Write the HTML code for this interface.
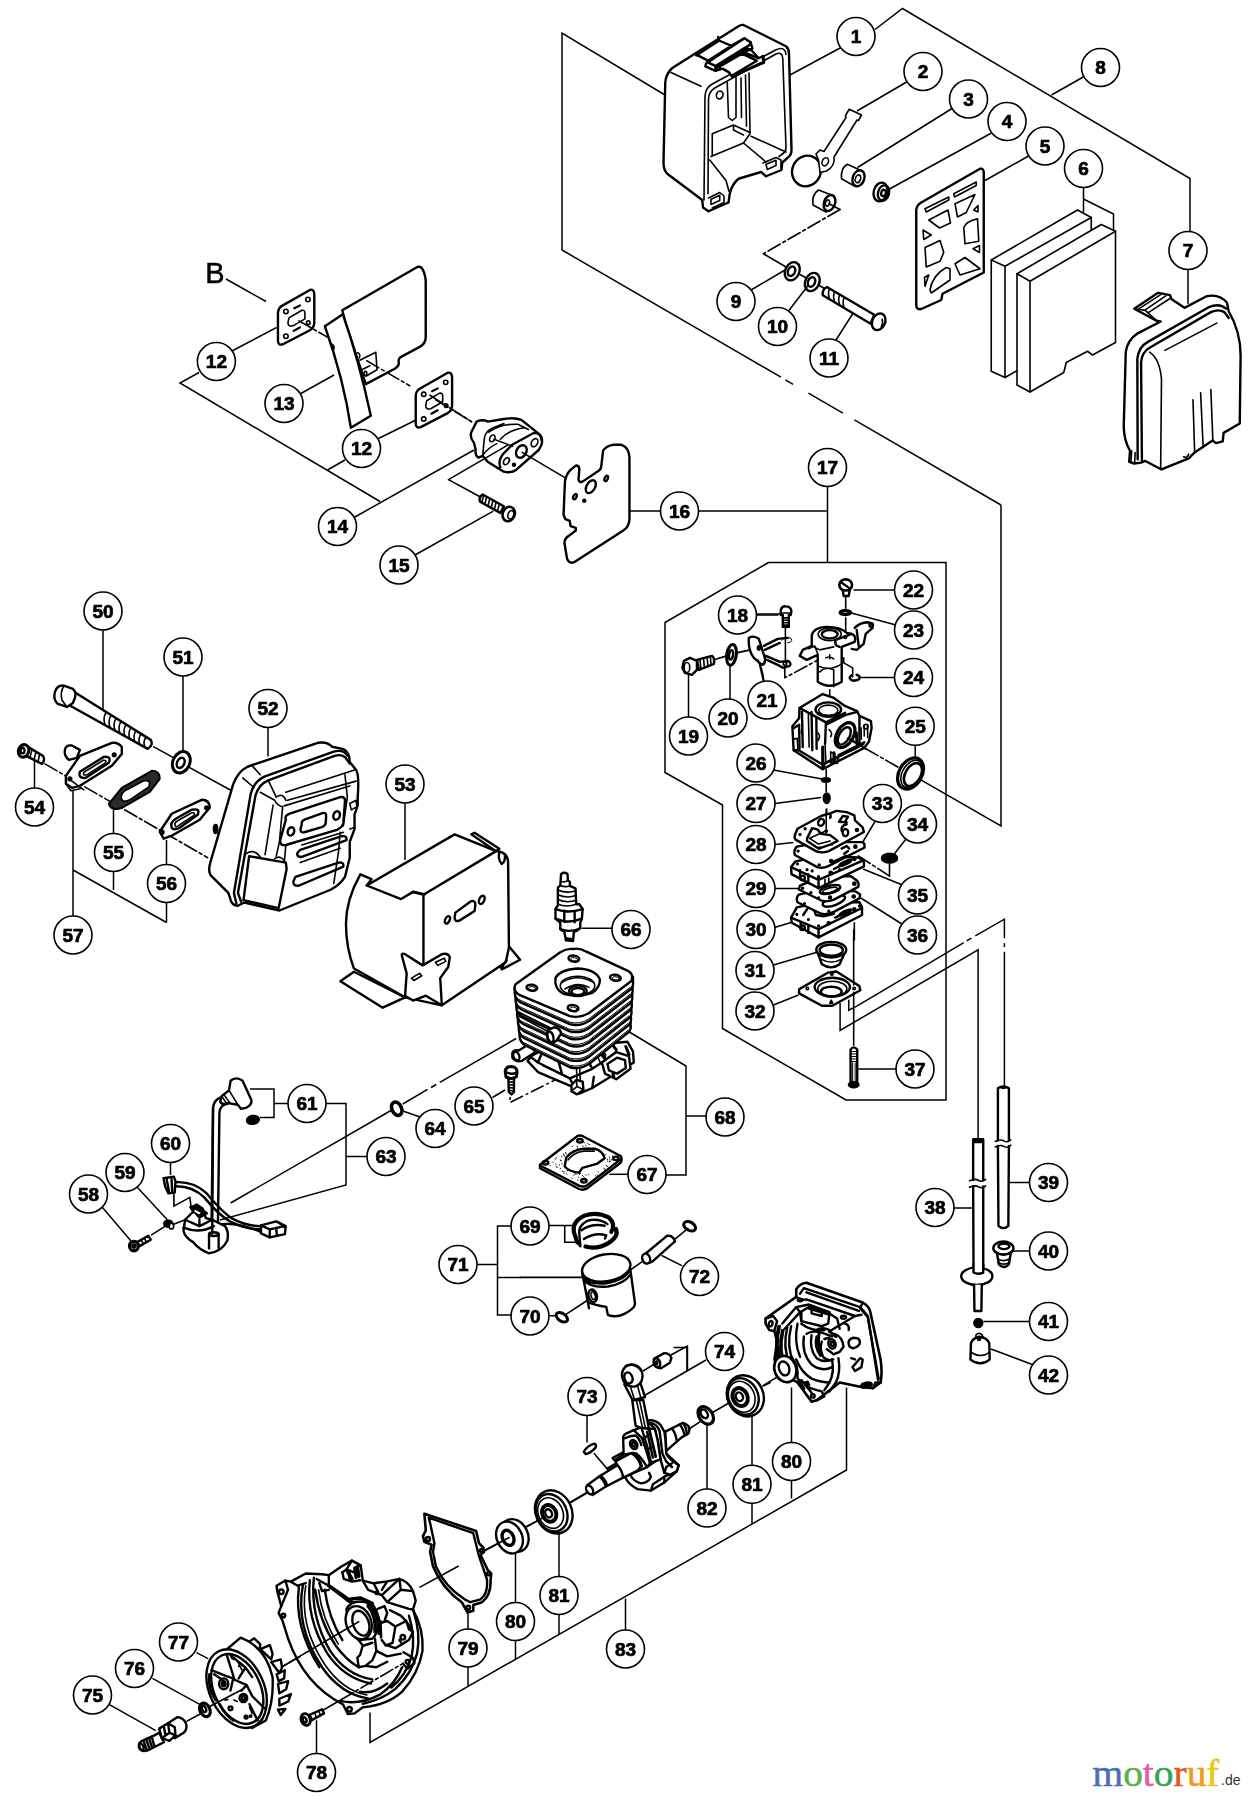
<!DOCTYPE html>
<html><head><meta charset="utf-8"><title>Parts diagram</title>
<style>
html,body{margin:0;padding:0;background:#fff}
svg{display:block}
.ln path,.ln line,.ln polyline{fill:none;stroke:#000;stroke-width:1.5}
.dd{stroke-dasharray:14 3 3 3}
.p *{fill:none;stroke:#000;stroke-width:1.6;vector-effect:non-scaling-stroke;stroke-linejoin:round;stroke-linecap:round}
.p .w{fill:#fff}
.p .k{fill:#000}
.p .t{stroke-width:2.4}
.p .h{stroke-width:1}
.p .d{stroke-dasharray:14 3 3 3;stroke-width:1.6}
.c circle{fill:#fff;stroke:#000;stroke-width:1.6}
.c text{font-family:"Liberation Sans",sans-serif;font-weight:bold;font-size:19px;text-anchor:middle;fill:#000;stroke:#000;stroke-width:.7px}
</style></head><body>
<svg width="1252" height="1800" viewBox="0 0 1252 1800">
<rect width="1252" height="1800" fill="#fff"/>

<g class="ln">
<path d="M875 29.5 L902.5 8.5 L1190 178.5 L1190 231"/>
<path d="M1188 269.5 L1188 304"/>
<path d="M841 47.5 L790 75"/>
<path d="M1085 76 L1051.5 95"/>
<path d="M907.5 81.5 L857 111"/>
<path d="M952 108.5 L857.5 167.5"/>
<path d="M991.5 133 L889.5 189"/>
<path d="M1028.5 156 L985 180.5"/>
<path d="M1083.5 187.5 L1083.5 212.5"/>
<path d="M1083.5 199 L1113.5 214 L1113.5 231"/>
<path d="M751 290 L785 270"/>
<path d="M788.5 311 L808.5 285"/>
<path d="M836 340 L853.5 312.5"/>
<path d="M665 95 L562 33 L562 250"/>
<path d="M562 250 L781 377.2"/>
<path d="M785.4 379.8 L793.1 384.3"/>
<path d="M808.4 393.2 L842.9 413.2"/>
<path d="M854.4 419.9 L1001 505"/>
<path d="M1001 505 L1001 826 L913 775.4"/>
<path d="M226 279 L266 301.5"/>
<path d="M231 351.5 L276.5 327.5"/>
<path d="M199 372.5 L180 383 L380 501.5"/>
<path d="M327.5 470 L345 460"/>
<path d="M377.5 439 L416 420"/>
<path d="M354 517.5 L474 450"/>
<path d="M300 394 L334 375"/>
<path d="M415 555 L493.3 511.2"/>
<path d="M626 511 L660.5 511"/>
<path d="M698.5 511 L827.5 511"/>
<path d="M827.5 486.5 L827.5 562.5"/>
<path d="M768.5 562.5 L946 562.5 L946 1100 L846 1100 L722.5 1028.5 L722.5 805 L665 772.5 L665 622.5 L768.5 562.5"/>
<path d="M756 615 L778.5 615"/>
<path d="M688.5 717.5 L688.5 675"/>
<path d="M730 699 L730 665"/>
<path d="M763.5 681.5 L758.5 660"/>
<path d="M895 590 L853.5 590"/>
<path d="M896 625 L849.5 612.5"/>
<path d="M895 677.5 L861 677.5"/>
<path d="M915.2 745 L915.2 760"/>
<path d="M773.5 770 L822 779"/>
<path d="M775 803.5 L821 797.5"/>
<path d="M775 844.5 L793.5 842.5"/>
<path d="M875 821.5 L861 845"/>
<path d="M906 839 L893.5 855"/>
<path d="M902.5 885 L863 869"/>
<path d="M903.5 925 L856 895"/>
<path d="M774.5 888.5 L798.5 888.5"/>
<path d="M774.5 927.5 L791 922.5"/>
<path d="M773.5 965 L816 952.5"/>
<path d="M773.5 1005 L798.5 995"/>
<path d="M896 1069 L857 1069"/>
<path d="M840.1 1003 L840.1 1030.4 L978.1 949.8 L978.1 1140"/>
<path d="M848.75 999.7 L848.75 1010.2 L856.4 1006.4 L963.8 942.6"/>
<path d="M966.6 940.9 L971.4 938.1"/>
<path d="M975.3 935.8 L1004.4 919.2 L1004.4 938.3"/>
<path d="M1004.4 943.1 L1004.4 947"/>
<path d="M1004.4 951.8 L1004.4 1086"/>
<path d="M1030 1182.5 L1008.5 1182.5"/>
<path d="M953.5 1208 L973.5 1208"/>
<path d="M1030 1251 L1013.5 1251"/>
<path d="M1030 1321.5 L983.5 1321.5"/>
<path d="M1033.5 1365 L991 1349"/>
<path d="M626 1030 L686 1066 L686 1175 L666 1175"/>
<path d="M686 1116 L706 1116"/>
<path d="M609.5 1174.3 L628 1174.3"/>
<path d="M103 630 L103 712.5"/>
<path d="M183 676 L183 752.5"/>
<path d="M268 727.5 L268 756.5"/>
<path d="M405 803 L405 860"/>
<path d="M34.5 788.5 L34.5 760"/>
<path d="M113.5 834 L113.5 810"/>
<path d="M113.5 871 L113.5 890"/>
<path d="M166.5 865 L166.5 840"/>
<path d="M166.5 902.5 L166.5 922.5"/>
<path d="M73 916 L73 790"/>
<path d="M73 870 L166.5 922.5"/>
<path d="M102.5 1207.5 L131 1241"/>
<path d="M137.5 1187.5 L167.5 1220"/>
<path d="M170.5 1162.5 L170.5 1175"/>
<path d="M250 1089 L274 1089 L274 1117.5 L260 1117.5"/>
<path d="M274 1103.5 L288.5 1103.5"/>
<path d="M326 1103.5 L346 1103.5 L346 1185 L220 1220"/>
<path d="M346 1156.5 L367.5 1156.5"/>
<path d="M516.2 1038.5 L439.8 1082.4"/>
<path d="M436.2 1084.5 L431 1087.5"/>
<path d="M427.5 1089.4 L402.8 1104"/>
<path d="M391 1110.5 L230.6 1203"/>
<path d="M421.5 1117.5 L400 1110"/>
<path d="M492.5 1097.5 L505 1090"/>
<path d="M510 1080 L510 1102.5 L570 1072.5" class="dd"/>
<path d="M476.5 1264.5 L497.5 1264.5"/>
<path d="M511.5 1226 L497.5 1226 L497.5 1315 L511.5 1315"/>
<path d="M497.5 1277.5 L521 1277.5"/>
<path d="M587 1415 L587 1442.5"/>
<path d="M706 1360 L641 1397.5"/>
<path d="M673.5 1347.5 L687 1347.5 L687 1371.5"/>
<path d="M370 1712.5 L370 1742.5 L846.5 1470 L846.5 1387.5"/>
<path d="M625.5 1598.5 L625.5 1630"/>
<path d="M468 1611.5 L468 1629"/>
<path d="M468 1667 L468 1686"/>
<path d="M515.5 1550 L515.5 1602.5"/>
<path d="M515.5 1640.5 L515.5 1659"/>
<path d="M559 1534 L559 1576.5"/>
<path d="M559 1614.5 L559 1634"/>
<path d="M707 1425 L707 1489"/>
<path d="M752 1414 L752 1465.5"/>
<path d="M752 1503.5 L752 1524"/>
<path d="M791.5 1387.5 L791.5 1442.5"/>
<path d="M791.5 1480.5 L791.5 1498.5"/>
<path d="M196.5 1652.6 L208.1 1658.7"/>
<path d="M152.4 1678.4 L200.6 1704.9"/>
<path d="M109 1704.3 L155.8 1730.7"/>
<path d="M316.5 1720.2 L316.5 1753.5"/>
</g>
<!-- t01_airbox.svg -->
<g class="p" transform="translate(626,0) scale(0.25)">
<!-- air cleaner box (1) -->
<path class="w t" d="M470 100 L640 185 Q652 195 652 215 L662 600 Q662 620 648 630 L625 650 L622 680 L560 705 L540 688 L450 715 Q425 735 415 775 L410 810 L330 845 L308 830 L305 800 L165 695 Q150 680 150 650 L157 330 Q160 295 185 272 L450 105 Q460 98 470 100 Z"/>
<path d="M312 800 L316 385 Q318 352 345 336 L598 200 Q636 182 640 218"/>
<path d="M328 775 L330 395 Q332 366 355 352 L600 216 Q624 206 627 232 L640 590 Q640 606 628 614 L612 626"/>
<path d="M180 290 L300 345"/>
<!-- interior -->
<ellipse cx="375" cy="380" rx="13" ry="16" transform="rotate(20 375 380)"/>
<path d="M405 330 L410 470 L425 482 L440 470 L440 300 M460 312 L462 470 M478 300 L482 505 M492 292 L496 530"/>
<path d="M345 535 L430 500 L496 530 M345 535 L345 620 M340 626 L470 572 L496 535 M470 572 L560 648 M430 500 L430 520 L470 540"/>
<path d="M335 640 L400 722 L412 765 M500 545 L640 608"/>
<!-- tabs -->
<path d="M330 792 L375 770 L392 784 L392 810 L345 832 M340 797 L375 781 L375 802 L340 818 Z"/>
<path d="M548 652 L600 630 L620 640 L620 675 M560 657 L600 641 L600 662 L565 678 Z"/>
</g>
<g class="p" transform="translate(690,15) scale(0.08786)">
<path class="w t" d="M70 460 L320 300 L330 290 L470 350 L620 265 L690 310 L710 380 L690 392 L780 490 L830 470 L840 540 L790 560 L480 700 L440 650 L370 610 L290 635 L175 585 L180 560 L205 520 L100 465 Z"/>
<path class="t" d="M205 520 L440 370 M200 540 L620 265 M200 540 L290 580 L680 340 M290 580 L290 635 M310 600 L660 385 M335 570 L340 605 M370 570 L590 440 L760 520 L480 690 M600 420 L780 490 M330 290 L320 250 M690 310 L680 340"/>
<path style="stroke-width:3" d="M600 420 L690 392 M790 560 L840 540 L830 470 M480 700 L790 560"/>
</g>

<!-- t02_choke.svg -->
<g class="p" transform="translate(626,0) scale(0.25)">
<!-- choke disc + lever (2) -->
<ellipse class="t" cx="722" cy="684" rx="57" ry="62" transform="rotate(25 722 684)"/>
<path class="w" d="M893 437 L942 460 L930 482 L924 480 L832 628 Q838 664 802 684 L776 690 L770 640 L760 616 L776 600 L792 606 L880 470 L878 462 Z"/>
<ellipse cx="797" cy="647" rx="12" ry="17" transform="rotate(25 797 647)"/>
<!-- bushing 3 -->
<path class="w" d="M885 657 L940 682 L915 745 L862 715 Q858 672 885 657 Z"/>
<ellipse class="w t" cx="930" cy="713" rx="23" ry="33" transform="rotate(20 930 713)"/>
<ellipse cx="928" cy="715" rx="10" ry="16" transform="rotate(20 928 715)"/>
<!-- lower bushing -->
<path class="w" d="M770 760 L822 780 L800 848 L748 820 Q742 778 770 760 Z"/>
<ellipse class="w t" cx="814" cy="812" rx="22" ry="33" transform="rotate(20 814 812)"/>
<ellipse cx="806" cy="812" rx="8" ry="13" transform="rotate(20 806 812)"/>
<path d="M812 815 L856 838"/>
<!-- bearing 4 -->
<ellipse class="w t" cx="1018" cy="768" rx="27" ry="38" transform="rotate(15 1018 768)"/>
<ellipse class="t" cx="1030" cy="772" rx="22" ry="31" transform="rotate(15 1030 772)"/>
<ellipse class="t" cx="1030" cy="772" rx="9" ry="13" transform="rotate(15 1030 772)"/>
<!-- dash-dot to washers -->
<path class="d" d="M856 838 L550 1015"/>
<path d="M550 1015 L640 1068 M690 1095 L722 1112 M770 1140 L795 1155"/>
<!-- washers 9,10 -->
<ellipse class="t" cx="665" cy="1085" rx="28" ry="38" transform="rotate(25 665 1085)"/>
<ellipse class="t" cx="662" cy="1085" rx="14" ry="20" transform="rotate(25 662 1085)"/>
<ellipse class="t" cx="745" cy="1128" rx="28" ry="38" transform="rotate(25 745 1128)"/>
<ellipse class="t" cx="742" cy="1128" rx="14" ry="20" transform="rotate(25 742 1128)"/>
</g>

<!-- t03_filter.svg -->
<g class="p" transform="translate(880,150) scale(0.25)">
<!-- filter plate 5 -->
<path class="w t" d="M400 75 Q415 72 415 90 L415 490 L250 575 L245 600 L165 636 Q145 640 145 620 L145 240 Q147 220 165 210 Z"/>
<path d="M180 235 L275 188 L275 200 L185 248 Z M295 175 L385 128 L385 142 L298 188 Z"/>
<path d="M195 280 L272 240 L282 292 L238 312 Z M300 215 L380 178 L345 250 L310 268 Z M375 240 L392 222 L392 248 Z M172 320 L205 340 L175 358 Z"/>
<path d="M180 390 L240 362 L255 410 L240 445 L185 468 Z M335 310 Q345 285 390 275 L395 365 L340 375 Z M372 395 L398 382 L398 410 Z"/>
<path d="M200 560 Q210 500 265 470 L280 475 L280 520 L205 572 Z M178 510 L195 500 L180 545 Z M300 455 L340 430 L400 475 L320 500 Z"/>
<!-- foams 6 -->
<path class="w" d="M445 440 L790 240 L845 270 L845 715 L500 910 L445 885 Z"/>
<path d="M445 440 L500 465 L500 910 M500 465 L845 270"/>
<path class="w" d="M548 495 L885 298 L942 325 L942 770 L850 820 L830 805 L745 850 L735 890 L600 968 L548 940 Z"/>
<path d="M548 495 L600 525 L600 968 M600 525 L942 325"/>
</g>

<!-- t04_cover.svg -->
<g class="p" transform="translate(1039,250) scale(0.17013)">
<path class="w t" d="M700 252 L770 265 L780 290 L855 340 L985 272 Q1060 255 1105 310 L1115 360 Q1185 480 1185 620 L1180 1020 L1085 1075 L1080 1125 L1040 1135 L1020 1120 L915 1190 L880 1225 L720 1290 L625 1240 L600 1250 L560 1255 L530 1245 L535 1180 Q500 1120 498 1040 L510 600 Q520 530 580 490 L715 420 L690 415 L560 345 Z"/>
<path class="t" d="M580 1230 L578 640 Q585 570 640 540 L1000 335 Q1060 310 1100 345"/>
<path class="t" d="M605 1240 L600 660 Q605 600 650 575 L1010 365 Q1055 345 1090 365 L1115 400"/>
<path d="M650 600 Q710 640 720 760 L715 1285 M740 590 L1045 430 M905 880 L915 1190 M950 840 L965 1160 M1010 820 L1022 1120"/>
<path d="M580 350 L715 262 M620 355 L745 270 M640 370 L770 285 M560 345 L625 355 L690 415 M545 1180 L540 1250 M565 1190 L562 1255 M850 1215 Q870 1225 880 1200"/>
</g>

<!-- t05_bolt11.svg -->
<g class="p" transform="translate(740,240) scale(0.1278)">
<path class="w t" d="M680 368 L1050 585 L1022 655 L648 432 Q640 390 680 368 Z"/>
<path d="M700 380 Q685 420 700 455 M740 405 Q725 445 740 480 M780 425 Q765 470 780 505 M815 450 Q800 490 812 520"/>
<ellipse class="w t" cx="1085" cy="640" rx="50" ry="68" transform="rotate(25 1085 640)"/>
<path d="M1112 620 Q1122 650 1105 682"/>
</g>

<!-- t06_gaskets.svg -->
<g class="p" transform="translate(250,240) scale(0.19968)">
<!-- plate 13 back sheet -->
<path class="w t" d="M462 352 L838 135 Q862 128 872 165 Q882 190 880 230 L880 490 Q878 520 850 535 L752 588 Q742 595 745 620 Q745 632 725 645 L580 722 L480 420 Z"/>
<path d="M550 602 L630 562 L636 650 L580 682 M560 650 L600 630"/>
<ellipse cx="578" cy="668" rx="7" ry="10"/>
<!-- front strip -->
<path class="w t" d="M375 432 L465 372 Q545 600 605 880 L505 940 Q470 700 375 432 Z"/>
<path d="M404 520 Q425 525 420 548 M538 565 Q555 570 548 590"/>
<!-- gasket 12a -->
<g>
<path class="w t" d="M160 330 L300 250 Q320 245 322 270 L322 415 Q320 440 300 452 L165 522 Q140 530 140 505 L140 365 Q142 340 160 330 Z"/>
<path d="M195 390 L260 352 Q275 350 275 365 L275 395 L215 430 Q190 435 190 415 Z"/>
<circle cx="180" cy="358" r="11"/><circle cx="290" cy="298" r="11"/><circle cx="180" cy="482" r="11"/><circle cx="292" cy="414" r="9"/>
<path style="stroke-width:2.2" d="M222 342 L250 328 M218 455 L250 438"/>
</g>
<g transform="translate(690,415)">
<path class="w t" d="M160 330 L300 250 Q320 245 322 270 L322 415 Q320 440 300 452 L165 522 Q140 530 140 505 L140 365 Q142 340 160 330 Z"/>
<path d="M195 390 L260 352 Q275 350 275 365 L275 395 L215 430 Q190 435 190 415 Z"/>
<circle cx="180" cy="358" r="11"/><circle cx="290" cy="298" r="11"/><circle cx="180" cy="482" r="11"/><circle cx="292" cy="414" r="9"/>
<path style="stroke-width:2.2" d="M222 342 L250 328 M218 455 L250 438"/>
</g>
<path class="d" d="M245 405 L385 485 M585 605 L800 730 M930 800 L1110 910"/>
</g>

<!-- t07_insul.svg -->
<g class="p" transform="translate(430,390) scale(0.17572)">
<path class="d" d="M0 30 L235 180"/>
<path class="w t" d="M265 180 Q300 165 330 180 L420 165 Q480 155 520 170 L620 250 Q645 270 635 310 L620 340 L490 455 Q460 475 420 465 L330 410 L300 375 L275 385 Q255 370 260 340 L250 300 Q225 270 235 240 Z"/>
<path class="t" d="M470 310 L590 245 Q630 240 635 285 M400 440 Q385 400 420 360 L470 310"/>
<ellipse class="t" cx="520" cy="350" rx="28" ry="38" transform="rotate(30 520 350)"/>
<ellipse cx="595" cy="300" rx="17" ry="25" transform="rotate(30 595 300)"/>
<ellipse cx="435" cy="405" rx="14" ry="22" transform="rotate(30 435 405)"/>
<circle class="k" cx="478" cy="425" r="8"/>
<path d="M300 370 L310 270 Q320 230 360 215 L420 190 M335 240 Q400 190 500 195 L560 225 M400 280 Q450 225 540 215 M300 370 Q330 330 380 305"/>
<ellipse cx="355" cy="275" rx="14" ry="20" transform="rotate(25 355 275)"/>
<path d="M365 280 L470 320 M525 355 L765 497 M440 315 L105 510 L290 610"/>
<!-- screw 15 -->
<path class="w t" d="M300 595 L420 662 L400 700 L285 635 Q275 610 300 595 Z"/>
<path d="M305 600 L295 640 M322 610 L312 650 M340 620 L330 660 M358 630 L348 670 M376 640 L366 680 M394 650 L384 690"/>
<ellipse class="w" style="stroke-width:2.6" cx="448" cy="706" rx="34" ry="42" transform="rotate(20 448 706)"/>
<ellipse cx="460" cy="710" rx="16" ry="25" transform="rotate(20 460 710)"/>
<!-- gasket 16 -->
<path class="w t" d="M985 345 Q1000 320 1040 312 L1090 312 Q1130 325 1135 380 L1135 740 Q1130 780 1100 800 L820 980 Q790 990 780 960 L765 870 Q765 845 790 830 L830 800 L830 785 L800 775 L795 745 L770 735 L760 710 L768 520 Q775 480 800 455 L830 430 Q850 430 850 450 L845 510 Q850 530 870 520 L960 460 Q975 450 975 430 Z"/>
<ellipse class="t" cx="915" cy="550" rx="24" ry="40" transform="rotate(30 915 550)"/>
<ellipse class="t" cx="1003" cy="503" rx="9" ry="16" transform="rotate(25 1003 503)"/>
<ellipse class="t" cx="825" cy="607" rx="9" ry="16" transform="rotate(25 825 607)"/>
<circle class="k" cx="878" cy="630" r="8"/>
</g>

<!-- t08_carbtop.svg -->
<g class="p" transform="translate(660,570) scale(0.19968)">
<!-- bolt 19 -->
<path class="w t" d="M185 450 L260 430 Q275 440 270 470 L195 500 Z"/>
<path d="M200 445 L205 495 M218 440 L222 490 M236 436 L240 485 M252 432 L256 478"/>
<path class="w" style="stroke-width:2.4" d="M120 455 L150 440 L185 455 L185 500 L160 525 L125 515 L112 490 Z"/>
<ellipse cx="135" cy="488" rx="14" ry="25"/>
<path d="M270 450 L335 430 M385 415 L495 390"/>
<!-- washer 20 -->
<ellipse class="w" style="stroke-width:3" cx="358" cy="425" rx="24" ry="52" transform="rotate(8 358 425)"/>
<ellipse class="t" cx="356" cy="425" rx="10" ry="24" transform="rotate(8 356 425)"/>
<!-- bracket 21 -->
<path class="w t" d="M445 340 Q470 325 495 345 L525 440 Q530 470 510 475 L470 440 Q440 400 445 340 Z"/>
<ellipse class="t" cx="495" cy="390" rx="5" ry="9"/>
<path class="t" d="M520 380 L590 345 L640 340 M525 400 L600 365 M530 430 L600 460 L640 455 Q660 465 650 480 L615 490 L590 475 L535 450"/>
<circle cx="626" cy="468" r="9"/>
<path class="h" d="M610 352 Q615 338 640 338 Q662 340 660 352 Q655 365 640 365"/>
<path d="M520 555 Q515 500 490 450"/>
<!-- screw 18 -->
<path class="w t" d="M605 200 Q610 180 630 182 Q655 182 658 205 L655 225 L645 225 L645 285 L615 285 L615 225 L605 225 Z"/>
<path d="M615 240 L645 240 M615 252 L645 252 M615 264 L645 264 M615 276 L645 276 M605 215 L658 215"/>
<path d="M628 290 L628 465 M480 220 L605 220"/>
<path class="d" d="M625 480 L625 540 L830 430"/>
<!-- screw 22, washer 23 -->
<ellipse class="w" style="stroke-width:2.6" cx="930" cy="75" rx="32" ry="28"/>
<path class="t" d="M905 60 L950 92 M915 100 L920 130 L945 130 L950 100"/>
<path d="M930 130 L930 200 M930 240 L930 335"/>
<ellipse style="stroke-width:3.2" cx="928" cy="213" rx="26" ry="10"/>
<!-- clip 24 -->
<path d="M920 440 L920 465 L965 490 L965 535"/>
<path style="stroke-width:2.6" d="M960 528 Q940 540 960 552 Q985 558 998 545 Q1005 532 985 525"/>
<!-- throttle assy -->
<path class="w t" d="M760 330 Q765 290 830 285 Q900 283 935 315 L960 320 Q985 330 975 360 L910 385 L910 560 Q850 600 790 560 L790 425 L735 450 L700 430 L715 400 L760 380 Z"/>
<ellipse class="t" cx="850" cy="322" rx="40" ry="21"/>
<ellipse cx="850" cy="322" rx="58" ry="32"/>
<path class="t" d="M880 350 L960 320 M900 385 Q870 380 880 350"/>
<circle cx="928" cy="336" r="7"/>
<path class="t" d="M975 290 Q1000 265 1040 262 Q1070 265 1065 290 L1030 320 L1020 370 L985 400 L960 395 M985 300 L995 380"/>
<circle class="t" cx="1058" cy="276" r="9"/>
<path d="M745 395 L775 380 L790 420 M760 380 L800 400 L870 385 M790 480 Q850 510 910 470 M800 510 Q830 480 870 500 L870 585 M830 440 Q850 430 870 445 M850 425 L850 445"/>
<path d="M850 600 L850 710"/>
</g>

<!-- t09_carbbody.svg -->
<g class="p" transform="translate(770,680) scale(0.15974)">
<path class="w t" d="M185 175 L330 88 L395 110 L465 160 L545 195 L560 225 L632 258 L636 300 L620 385 L590 425 L330 558 L148 440 L140 290 L182 240 Z"/>
<ellipse class="t" cx="365" cy="185" rx="80" ry="45"/>
<ellipse cx="365" cy="190" rx="60" ry="33"/>
<path d="M300 205 Q365 240 430 205"/>
<ellipse class="w" style="stroke-width:3.2" cx="470" cy="345" rx="52" ry="85" transform="rotate(30 470 345)"/>
<ellipse class="t" cx="465" cy="350" rx="32" ry="60" transform="rotate(30 465 350)"/>
<path class="t" d="M260 200 L265 440 M185 175 L260 215 L350 265 L470 205 M350 265 L345 400 M180 440 L330 530 L560 415 M330 430 L330 555"/>
<path d="M240 210 L245 420 M150 370 L170 365 L175 440 M345 410 L350 520 M380 450 L405 460 L405 510 L380 520 Z M590 290 L590 350 M610 280 L612 360 M570 300 L572 370 M200 310 Q190 330 205 340 M370 310 Q395 330 380 355 M300 330 Q320 350 300 380"/>
<circle cx="600" cy="292" r="14"/>
<path class="t" d="M150 300 L182 280 L185 430 M200 200 L205 420 M290 240 L292 430 M360 275 L470 220 L545 200 M560 230 L560 400 M420 520 L430 470 L590 390 M148 440 L180 440 M330 558 L345 520 L585 400"/>
<path style="stroke-width:3" d="M330 420 L332 550 M400 455 L402 515 M540 330 L545 400 M500 440 Q540 430 560 400"/>
<path class="t" d="M490 365 L600 430"/>
<path class="d" d="M600 430 L800 545"/>
<!-- seal 25 -->
<ellipse class="w" style="stroke-width:3.2" cx="880" cy="585" rx="72" ry="105" transform="rotate(30 880 585)"/>
<ellipse style="stroke-width:2.6" cx="895" cy="592" rx="48" ry="78" transform="rotate(30 895 592)"/>
<ellipse cx="888" cy="588" rx="60" ry="92" transform="rotate(30 888 588)"/>

<!-- 26, 27 -->
<path d="M352 560 L352 615 M352 640 L352 700 M355 810 L355 960"/>
<ellipse class="k" cx="350" cy="626" rx="27" ry="13"/>
<ellipse class="k" cx="355" cy="740" rx="21" ry="33"/>
</g>

<!-- t10_stack.svg -->
<g class="p" transform="translate(770,800) scale(0.1278)">
<!-- layer F body 30 -->
<path class="w t" d="M210 840 L165 920 L170 960 L380 1075 L720 900 L720 840 L700 800 L400 800 Z"/>
<path class="t" d="M165 920 L380 1010 L720 845 M240 955 L240 1010 M300 985 L300 1040 M380 1010 L380 1075"/>
<path class="t" d="M260 900 L300 840 L340 850 L360 900 L420 910 L500 890"/>
<ellipse class="t" cx="590" cy="880" rx="50" ry="11" transform="rotate(-25 590 880)"/>
<path style="stroke-width:2.4" d="M510 920 L600 878"/>
<circle class="t" cx="255" cy="1000" r="18"/>
<circle class="t" cx="660" cy="855" r="9"/><circle class="t" cx="460" cy="965" r="9"/><circle class="t" cx="460" cy="880" r="9"/>
<circle class="k" cx="210" cy="895" r="6"/><circle class="k" cx="300" cy="935" r="6"/><circle class="k" cx="380" cy="985" r="6"/><circle class="k" cx="700" cy="830" r="6"/>
<!-- layer E diaphragm 36 -->
<path class="w t" d="M225 740 Q200 770 215 800 L400 890 Q450 900 500 875 L700 770 L705 740 L670 715 L400 700 Z"/>
<ellipse class="t" cx="500" cy="790" rx="92" ry="34" transform="rotate(-20 500 790)"/>
<circle class="t" cx="655" cy="755" r="9"/><circle class="k" cx="460" cy="870" r="7"/><circle class="k" cx="270" cy="810" r="6"/>
<!-- layer D gasket 29 -->
<path class="w t" d="M235 670 L225 700 L410 790 Q450 800 500 780 L690 680 Q700 650 680 630 L630 595 L400 600 Z"/>
<ellipse class="t" cx="470" cy="700" rx="82" ry="30" transform="rotate(-15 470 700)"/>
<ellipse cx="470" cy="705" rx="60" ry="18" transform="rotate(-15 470 705)"/>
<circle class="k" cx="255" cy="690" r="7"/><circle class="k" cx="320" cy="725" r="7"/><circle class="t" cx="470" cy="762" r="8"/><circle class="t" cx="660" cy="655" r="9"/><circle class="k" cx="380" cy="765" r="6"/>
<!-- layer C body 35 -->
<path class="w t" d="M200 480 L165 525 L168 580 L380 690 L735 520 L735 475 L690 450 L400 440 Z"/>
<path class="t" d="M165 525 L380 625 L735 470 M235 550 L235 610 M300 580 L300 640 M380 620 L380 690"/>
<ellipse class="t" cx="590" cy="492" rx="52" ry="12" transform="rotate(-25 590 492)"/>
<path style="stroke-width:2.4" d="M500 540 L610 485"/>
<circle class="t" cx="660" cy="460" r="9"/><circle class="t" cx="475" cy="570" r="9"/><circle class="k" cx="380" cy="600" r="7"/>
<circle class="t" cx="255" cy="610" r="18"/>
<circle class="k" cx="215" cy="500" r="6"/><circle class="k" cx="290" cy="545" r="6"/><circle class="k" cx="330" cy="555" r="6"/><circle class="k" cx="545" cy="545" r="6"/>
<path d="M430 620 L430 660 M460 610 L460 650"/>
<!-- layer B gasket 33 -->
<path class="w t" d="M210 365 Q180 395 195 430 L370 525 Q410 540 460 515 L740 372 L738 340 L720 330 L400 330 Z"/>
<circle class="k" cx="220" cy="400" r="7"/><circle class="k" cx="385" cy="508" r="7"/><circle class="t" cx="478" cy="478" r="8"/><circle class="t" cx="668" cy="365" r="9"/>
<path class="t" d="M560 380 L600 360 L620 380 M580 420 L610 400"/>
<path style="stroke-width:2.2" d="M480 490 L600 435"/>
<!-- layer A gasket 28 -->
<path class="w t" d="M215 225 L400 125 L470 105 L520 85 L600 95 L660 120 L665 160 L725 215 L735 250 L460 400 Q400 420 360 400 L200 310 Q185 290 200 260 Z"/>
<path class="t" d="M290 300 L330 220 L370 230 L400 265 L470 275 L530 320 L470 350 L380 380 L290 320 Z"/>
<path d="M310 300 L440 240 M310 300 L380 345 L470 320"/>
<ellipse class="t" cx="400" cy="175" rx="22" ry="28" transform="rotate(30 400 175)"/>
<circle class="k" cx="275" cy="225" r="7"/><circle class="k" cx="235" cy="270" r="7"/><circle class="t" cx="680" cy="235" r="8"/><circle class="k" cx="390" cy="375" r="7"/><circle class="k" cx="485" cy="345" r="7"/>
<ellipse class="t" cx="590" cy="255" rx="22" ry="28"/>
<path class="t" d="M560 240 Q555 200 600 190 M540 170 L570 125 L610 130 L590 165 M540 170 L600 175 M470 110 Q480 130 470 140"/>
<path d="M440 70 L440 255 M430 240 L440 258 L450 240"/>
<!-- 34 and lines -->
<ellipse class="k" cx="935" cy="455" rx="62" ry="38"/>
<path d="M935 500 L935 595 M660 960 L660 1096"/>
<path class="d" d="M935 595 L680 430"/>
</g>

<!-- t11_cup.svg -->
<g class="p" transform="translate(770,930) scale(0.20767)">
<!-- 31 cup -->
<path class="w t" d="M228 105 L250 165 Q295 195 335 165 L362 105"/>
<ellipse class="w" style="stroke-width:2.4" cx="295" cy="95" rx="72" ry="38"/>
<ellipse class="t" cx="295" cy="97" rx="56" ry="27"/>
<path d="M245 140 Q295 168 345 140"/>
<!-- 32 plate -->
<path class="w t" d="M140 285 L280 205 L320 200 L430 270 L435 290 L300 365 L250 365 L140 305 Z"/>
<ellipse class="t" cx="300" cy="275" rx="85" ry="45"/>
<ellipse cx="300" cy="283" rx="70" ry="36"/>
<ellipse class="t" cx="295" cy="297" rx="50" ry="24"/>
<circle class="k" cx="298" cy="212" r="6"/><circle cx="180" cy="282" r="6"/><circle cx="405" cy="282" r="6"/>
<path class="k" d="M288 352 L295 338 L302 352 Z"/>
<!-- 37 screw -->
<path d="M403 0 L403 265 M403 300 L403 555"/>
<path class="w t" d="M388 575 Q403 555 420 575 L420 735 L388 735 Z"/>
<path class="h" d="M390 585 L418 585 M390 597 L418 597 M390 609 L418 609 M390 621 L418 621 M390 633 L418 633 M398 640 L398 730 M410 640 L410 730"/>
<ellipse class="k" cx="403" cy="745" rx="25" ry="14"/>
</g>

<!-- t12_tubes.svg -->
<g class="p" transform="translate(920,1070) scale(0.1833)">
<!-- tube 39 -->
<path class="w t" d="M425 385 L425 100 Q455 80 485 100 L485 385 M425 415 L428 850 Q455 875 482 850 L485 415"/>
<path d="M410 390 Q440 375 460 388 Q480 398 495 380 M410 420 Q440 405 460 418 Q480 428 495 410 M440 95 Q455 105 470 95"/>
<!-- tube 38 -->
<path class="w t" d="M290 600 L290 380 L345 380 L345 600 M290 635 L292 1090 L345 1090 L345 635"/>
<path class="k" d="M290 375 L345 375 L345 395 L290 395 Z"/>
<path d="M270 605 Q300 590 320 603 Q340 613 358 597 M270 640 Q300 625 320 638 Q340 648 358 632"/>
<ellipse class="w t" cx="310" cy="1125" rx="85" ry="48"/>
<path class="w t" d="M292 1060 L292 1105 Q318 1118 345 1105 L345 1060"/>
<path d="M235 1150 Q310 1195 385 1150"/>
<path class="w t" d="M295 1172 L297 1315 L335 1315 L337 1172"/>
<!-- grommet 40 -->
<path class="w t" d="M420 1000 L430 1060 Q455 1090 485 1060 L495 1000"/>
<path d="M425 1030 Q455 1050 490 1030 M428 1050 Q455 1068 488 1050"/>
<ellipse class="w" style="stroke-width:2.4" cx="455" cy="972" rx="55" ry="36"/>
<ellipse class="t" cx="458" cy="962" rx="30" ry="15"/>
<path d="M405 985 Q455 1025 505 985"/>
<!-- spring 41 -->
<circle class="k" cx="318" cy="1380" r="24"/>
<!-- filter 42 -->
<path class="w t" d="M275 1580 L278 1490 Q290 1460 325 1455 Q365 1460 378 1490 L380 1580 Q330 1620 275 1580 Z"/>
<path d="M278 1540 Q330 1575 380 1540 M305 1462 Q300 1440 322 1436 Q345 1440 342 1462"/>
<circle class="k" cx="322" cy="1468" r="8"/>
</g>

<!-- t13_mufbolts.svg -->
<g class="p" transform="translate(0,670) scale(0.19968)">
<path class="d" d="M225 470 L1040 940"/>
<!-- bolt 50 -->
<path class="w t" d="M372 110 L755 350 Q770 375 740 395 L345 175 Z"/>
<path d="M530 215 Q515 240 525 268 M555 230 Q540 255 550 283 M580 245 Q565 270 575 298 M605 260 Q590 285 600 313 M630 275 Q615 300 625 328 M655 290 Q640 315 650 343 M680 306 Q665 330 675 358 M705 322 Q690 345 700 372 M730 338 Q715 360 725 385"/>
<path class="w t" d="M275 110 Q285 75 320 78 L365 95 Q385 110 375 140 L365 165 L335 185 L290 170 Q265 150 275 110 Z"/>
<path d="M320 80 Q300 110 310 150 L335 185"/>
<path d="M770 385 L880 445 M925 475 L1160 605"/>
<!-- washer 51 -->
<ellipse class="w" style="stroke-width:3" cx="908" cy="462" rx="42" ry="56" transform="rotate(25 908 462)"/>
<ellipse class="w t" cx="905" cy="465" rx="18" ry="27" transform="rotate(25 905 465)"/>
<!-- bolt 54 -->
<path class="w t" d="M140 385 L215 430 Q228 450 210 470 L130 430 Z"/>
<path d="M160 398 L150 440 M180 410 L170 452 M198 422 L190 462"/>
<ellipse class="w" style="stroke-width:3" cx="118" cy="405" rx="26" ry="32" transform="rotate(20 118 405)"/>
<ellipse class="t" cx="113" cy="403" rx="10" ry="14"/>
<!-- 57 flange pipe -->
<path class="w t" d="M325 400 Q330 375 360 378 L400 400 L385 440 L345 450 Q320 430 325 400 Z"/>
<path class="w t" d="M330 530 L400 430 L560 365 Q590 360 610 385 L610 420 L560 480 L400 580 L360 590 L330 570 Z"/>
<path class="t" d="M400 510 L520 435 Q560 430 545 465 L430 540 Q390 545 400 510 Z"/>
<path d="M420 512 L518 452 Q535 450 528 465 L435 525 Q412 530 420 512 Z M330 570 L355 605 L400 595 M345 545 L420 600"/>
<circle class="k" cx="572" cy="425" r="9"/><circle class="k" cx="350" cy="545" r="9"/>
<!-- gasket 55 -->
<path style="fill:#2a2a2a;stroke-width:2" d="M545 670 L610 590 L760 505 Q800 505 800 545 L750 610 L610 690 Q560 710 545 670 Z"/>
<path class="w" d="M610 650 Q600 625 625 605 L720 555 Q760 550 745 585 L650 650 Q620 665 610 650 Z"/>
<!-- gasket 56 -->
<path class="w t" d="M800 810 L860 720 L1010 650 Q1050 650 1050 690 L1000 750 L860 830 L820 845 Z"/>
<path class="t" d="M860 790 Q850 765 880 745 L960 700 Q1005 690 990 725 L900 790 Q870 805 860 790 Z"/>
<path d="M878 782 Q870 765 890 755 L958 716 Q980 712 972 728 L900 775 Q885 790 878 782 Z"/>
<circle class="k" cx="1035" cy="690" r="9"/><circle class="k" cx="812" cy="812" r="9"/>
</g>

<!-- t14_muffler.svg -->
<g class="p" transform="translate(190,730) scale(0.15974)">
<path class="w t" d="M270 340 Q300 260 360 230 L800 80 Q860 70 890 105 L960 120 Q1000 140 1000 200 L1040 250 Q1060 280 1050 420 L1050 470 L1030 530 L1030 620 L1000 700 L1000 800 L970 920 Q940 970 880 1000 L560 1130 L340 1080 L300 1100 Q260 1100 250 1050 L240 1020 L130 910 Q110 880 130 820 Z"/>
<path class="t" d="M290 1085 L275 1020 L380 400 Q400 320 470 290 L900 135 Q960 120 985 160"/>
<path class="t" d="M320 1075 L300 1020 L410 410 Q430 340 490 315 L910 160 Q950 150 975 175 L1000 210"/>
<path d="M390 225 L440 280 M330 300 L400 360 M440 390 L530 440 Q545 475 580 480 M540 420 Q580 390 600 440 M600 390 L1030 250 M610 440 L1040 320 M580 480 L560 700 L540 790 M520 470 L470 780 M590 475 L1000 350 M970 280 L985 420 L960 600 M490 315 L540 420"/>
<path class="t" d="M600 560 Q590 540 620 525 L940 420 Q975 415 970 450 L960 580 Q955 610 920 625 L600 720 Q560 725 565 690 Z"/>
<path class="t" d="M700 590 Q695 570 720 560 L830 520 Q855 515 852 540 L850 580 Q848 600 825 608 L715 640 Q690 645 692 620 Z"/>
<ellipse class="t" cx="632" cy="635" rx="20" ry="27" transform="rotate(20 632 635)"/>
<ellipse class="t" cx="918" cy="535" rx="20" ry="27" transform="rotate(20 918 535)"/>
<path class="t" d="M690 750 L950 665 Q985 660 980 690 L700 795 Q665 795 672 770 Z M660 920 L930 830 Q965 825 960 855 L680 975 Q640 975 648 945 Z"/>
<path d="M1000 460 L1040 440 L1045 480 L1010 500 Z M1000 620 L1030 610 M940 640 L930 760 L900 960 M700 720 L960 640 M690 830 L940 740 M600 720 L590 830"/>
<path class="w t" d="M370 790 L600 830 L605 870 L555 1115 L335 1065 Z"/>
<path d="M350 775 Q400 740 440 795 M530 805 Q570 780 595 825"/>
<ellipse class="k" cx="160" cy="620" rx="13" ry="28"/>
</g>

<!-- t15_shield.svg -->
<g class="p" transform="translate(330,820) scale(0.15974)">
<path class="w t" d="M150 950 L65 1010 L330 1175 L470 1110 Z"/>
<path class="w t" d="M1120 790 L1190 875 L1075 935 Z"/>
<path class="w t" d="M190 340 Q100 500 100 650 Q100 800 150 930 L470 1110 L700 1160 L1100 890 L1120 800 L1115 260 Q1110 200 1040 195 L780 90 L230 410 L260 370 Z"/>
<path class="t" d="M230 410 L445 495 L520 450 L590 465 L1040 195 M585 470 L585 910"/>
<path style="stroke-width:2.6" d="M520 450 L590 468"/>
<path class="w t" d="M885 90 L905 80 L1060 180 L1040 195 Z"/>
<path class="t" d="M1060 200 Q1050 250 1075 275 Q1100 260 1095 215 M1105 880 L1070 925"/>
<path class="w t" d="M450 850 Q445 830 470 840 L580 910 L700 840 Q740 830 750 860 L740 920 L690 990 L700 1160 L600 1100 L520 1130 L470 1100 L480 960 Z"/>
<path d="M510 990 L560 960 L575 975 L525 1005 Z M660 890 L715 865 L725 885 L675 910 Z"/>
<ellipse class="t" cx="735" cy="625" rx="14" ry="25" transform="rotate(25 735 625)"/>
<ellipse class="t" cx="950" cy="500" rx="16" ry="27" transform="rotate(25 950 500)"/>
<path class="t" d="M785 580 L880 510 Q910 500 910 530 L905 570 L810 630 Q780 640 780 610 Z"/>
</g>

<!-- t16_cyl.svg -->
<g class="p" transform="translate(490,850) scale(0.15974)">
<path class="w t" d="M235 1320 L260 1290 L330 1250 L860 1200 L895 1260 L900 1330 L640 1490 L560 1525 L510 1480 L300 1390 Z"/>
<path class="t" d="M260 1300 L300 1330 L500 1430 L520 1470 M300 1330 L330 1260 M420 1290 L450 1400 M500 1430 L640 1370 L700 1330 M600 1290 L640 1370 M640 1490 L650 1420"/>
<path d="M540 1340 L545 1440 M560 1330 L565 1440 M330 1350 L480 1420 M660 1260 L690 1330"/>
<path class="w" style="stroke-width:2.4" d="M700 1330 L790 1265 L870 1290 L880 1370 L790 1435 L720 1400 Z"/>
<path class="t" d="M735 1340 L795 1300 L845 1315 L850 1365 L795 1400 L745 1380 Z"/>
<path style="stroke-width:3" d="M760 1210 L790 1250 M850 1230 L870 1280 M700 1270 L720 1310 M770 1400 L775 1420"/>
<circle class="k" cx="712" cy="1285" r="12"/>
<path class="w t" d="M510 1470 L540 1440 L580 1450 L585 1500 L545 1530 L510 1510 Z"/>
<path d="M540 1440 L545 1480 L585 1500 M545 1480 L510 1510"/>
<path class="w t" d="M140 1270 Q150 1250 180 1255 L245 1215 L285 1265 L200 1320 Q160 1330 140 1300 Z"/>
<ellipse class="t" cx="165" cy="1290" rx="18" ry="28" transform="rotate(-20 165 1290)"/>
<path class="w t" d="M185 1165 Q185 1205 225 1225 L500 1360 Q560 1377 620 1340 L868 1140 Q885 1120 880 1095 L880 1065 L185 1135 Z"/>
<path class="h" d="M193 1187 Q200 1207 230 1215 L500 1348 Q560 1363 615 1330 L863 1130"/>
<path class="w t" d="M180 1120 Q180 1160 220 1180 L500 1315 Q560 1332 620 1295 L870 1095 Q887 1075 882 1050 L882 1020 L180 1090 Z"/>
<path class="h" d="M188 1142 Q195 1162 225 1170 L500 1303 Q560 1318 615 1285 L865 1085"/>
<path class="w t" d="M175 1075 Q175 1115 215 1135 L500 1270 Q560 1287 620 1250 L873 1050 Q890 1030 885 1005 L885 975 L175 1045 Z"/>
<path class="h" d="M183 1097 Q190 1117 220 1125 L500 1258 Q560 1273 615 1240 L868 1040"/>
<path class="w t" d="M170 1030 Q170 1070 210 1090 L500 1225 Q560 1242 620 1205 L875 1005 Q892 985 887 960 L887 930 L170 1000 Z"/>
<path class="h" d="M178 1052 Q185 1072 215 1080 L500 1213 Q560 1228 615 1195 L870 995"/>
<path class="w t" d="M165 985 Q165 1025 205 1045 L500 1180 Q560 1197 620 1160 L878 960 Q895 940 890 915 L890 885 L165 955 Z"/>
<path class="h" d="M173 1007 Q180 1027 210 1035 L500 1168 Q560 1183 615 1150 L873 950"/>
<path class="w t" d="M160 940 Q160 980 200 1000 L500 1135 Q560 1152 620 1115 L880 915 Q897 895 892 870 L892 840 L160 910 Z"/>
<path class="h" d="M168 962 Q175 982 205 990 L500 1123 Q560 1138 615 1105 L875 905"/>
<path class="w t" d="M155 895 Q155 935 195 955 L500 1090 Q560 1107 620 1070 L883 870 Q900 850 895 825 L895 795 L155 865 Z"/>
<path class="h" d="M163 917 Q170 937 200 945 L500 1078 Q560 1093 615 1060 L878 860"/>
<path class="w t" d="M520 620 Q560 610 600 635 L870 760 Q900 780 885 820 L620 1020 Q560 1055 500 1040 L180 905 Q140 880 160 840 L440 640 Q480 615 520 620 Z"/>
<path class="t" d="M410 800 Q440 750 545 742 Q660 745 688 810 Q690 860 640 895 Q560 925 460 900 Q400 870 410 800 Z"/>
<ellipse cx="548" cy="850" rx="108" ry="60"/>
<path d="M450 830 Q545 770 650 830 M470 870 Q545 820 620 860"/>
<ellipse class="t" cx="550" cy="882" rx="56" ry="33"/>
<ellipse class="t" cx="550" cy="886" rx="40" ry="22"/>
<ellipse class="t" cx="525" cy="680" rx="34" ry="19" transform="rotate(8 525 680)"/>
<ellipse class="h" cx="528" cy="684" rx="22" ry="11" transform="rotate(8 525 680)"/>
<ellipse class="t" cx="785" cy="800" rx="34" ry="19" transform="rotate(8 785 800)"/>
<ellipse class="h" cx="788" cy="804" rx="22" ry="11" transform="rotate(8 785 800)"/>
<ellipse class="t" cx="262" cy="862" rx="34" ry="19" transform="rotate(8 262 862)"/>
<ellipse class="h" cx="265" cy="866" rx="22" ry="11" transform="rotate(8 262 862)"/>
<ellipse class="t" cx="520" cy="990" rx="34" ry="19" transform="rotate(8 520 990)"/>
<ellipse class="h" cx="523" cy="994" rx="22" ry="11" transform="rotate(8 520 990)"/>
<path class="w t" d="M360 1130 L400 1110 Q440 1115 445 1150 L415 1195 L380 1210 Q350 1180 360 1130 Z"/>
<ellipse class="t" cx="378" cy="1170" rx="18" ry="34" transform="rotate(-15 378 1170)"/>
<path d="M170 1010 L370 1110 M180 1040 L360 1135"/>
<path class="w t" d="M445 150 Q465 135 485 150 L488 190 L500 200 L500 225 L535 240 L540 340 L560 340 L580 370 L575 430 L565 455 L565 490 Q545 510 525 512 L520 570 L475 565 L465 510 Q445 505 440 495 L440 455 L410 430 L410 370 L425 345 L425 235 L440 222 L442 195 Z"/>
<path d="M442 195 Q465 205 488 192 M440 222 Q470 235 500 225 M425 250 Q480 275 538 255 M425 280 Q480 305 538 285 M425 310 Q480 335 540 315 M425 340 Q480 362 540 340"/>
<path class="t" d="M410 370 Q490 400 580 370 M410 430 Q490 465 575 430 M465 380 L465 450 M530 385 L530 452 M440 495 Q500 520 565 490"/>
<path style="stroke-width:3" d="M480 555 L515 560"/>
<path d="M580 490 L765 490"/>
<path class="w t" d="M115 1430 L118 1515 L135 1530 L150 1515 L150 1430 Z"/>
<path d="M116 1450 L150 1455 M116 1468 L150 1473 M117 1486 L150 1491 M118 1504 L150 1509"/>
<path class="w" style="stroke-width:3" d="M95 1385 Q100 1355 135 1355 Q170 1360 170 1390 L165 1420 Q135 1440 100 1420 Z"/>
<path class="t" d="M98 1390 Q135 1410 168 1392"/>
</g>
<!-- t17_piston.svg -->
<g class="p" transform="translate(520,1120) scale(0.15974)">
<path class="w t" d="M125 280 L360 100 Q380 92 400 105 L630 225 Q642 245 630 268 L420 428 Q395 442 370 432 L125 302 Z"/>
<path class="t" d="M125 285 L372 412 Q395 422 418 410 L632 245"/>
<path class="t" d="M290 235 Q330 185 400 180 L470 180 Q520 195 530 240 L480 275 L390 300 L370 330 Q300 320 280 290 Z"/>
<path d="M300 250 Q340 200 400 195 L465 195"/>
<ellipse class="t" cx="375" cy="130" rx="17" ry="11"/>
<ellipse class="t" cx="600" cy="240" rx="17" ry="11"/>
<ellipse class="t" cx="160" cy="268" rx="17" ry="11"/>
<ellipse class="t" cx="400" cy="380" rx="17" ry="11"/>
<path class="h" d="M245 280l3 2 M547 257l3 2 M389 345l3 2 M562 256l3 2 M324 364l3 2 M613 244l3 2 M545 289l3 2 M225 235l3 2 M433 152l3 2 M578 225l3 2 M343 338l3 2 M482 344l3 2 M252 251l3 2 M277 224l3 2 M412 343l3 2 M220 244l3 2 M288 210l3 2 M546 245l3 2 M295 315l3 2 M572 249l3 2 M392 163l3 2 M532 214l3 2 M271 213l3 2 M366 358l3 2 M395 370l3 2 M261 274l3 2 M285 204l3 2 M302 313l3 2 M187 283l3 2 M520 225l3 2 M530 306l3 2 M376 332l3 2 M337 329l3 2 M358 181l3 2 M257 253l3 2 M410 373l3 2 M251 303l3 2 M474 350l3 2 M588 271l3 2 M349 337l3 2 M226 293l3 2 M274 333l3 2 M361 375l3 2 M540 284l3 2 M368 338l3 2 M558 232l3 2 M361 176l3 2 M272 218l3 2 M231 293l3 2 M400 139l3 2 M264 320l3 2 M274 323l3 2 M396 137l3 2 M488 324l3 2 M411 160l3 2 M292 338l3 2 M259 227l3 2 M513 217l3 2 M398 355l3 2 M335 345l3 2 M424 148l3 2 M326 164l3 2 M559 260l3 2 M429 340l3 2 M223 275l3 2 M525 306l3 2 M560 244l3 2 M206 264l3 2 M426 174l3 2 M357 164l3 2"/>
<path style="stroke-width:4.2" d="M410 792 Q480 812 550 772 Q622 730 600 682"/>
<path class="t" d="M400 745 Q470 700 540 722 L532 742 M385 690 Q450 645 530 662"/>
<path style="stroke-width:4.2" d="M358 765 L340 710 Q320 640 400 600 Q480 570 555 610 Q600 650 572 700"/>
<path class="t" d="M372 722 Q360 662 420 632 Q490 610 548 652 M358 765 L378 790 L372 722"/>
<path d="M185 660 L330 660 M280 660 L280 765 L350 765"/>
<path class="w t" d="M390 960 L425 1140 Q470 1160 540 1170 L550 1220 Q600 1240 650 1215 Q720 1180 720 1150 L690 930 Z"/>
<ellipse class="w t" cx="540" cy="925" rx="153" ry="84" transform="rotate(-10 540 925)"/>
<path class="t" d="M392 975 Q420 1032 540 1022 Q660 1002 690 935 M402 1003 Q440 1052 550 1042 Q650 1027 692 968"/>
<path class="t" d="M425 1140 L432 1178"/>
<ellipse class="t" cx="455" cy="1100" rx="26" ry="40" transform="rotate(-15 455 1100)"/>
<ellipse cx="458" cy="1100" rx="13" ry="25" transform="rotate(-15 458 1100)"/>
<path d="M690 940 L760 890 M970 745 L1050 680 M290 1215 L420 1130 M190 1225 L225 1225 M890 850 L1010 910 M0 985 L390 985"/>
<path class="w t" d="M770 850 L920 725 Q960 720 970 760 L830 885 Q790 905 770 880 Z"/>
<ellipse class="w t" cx="790" cy="868" rx="24" ry="32" transform="rotate(-20 790 868)"/>
<ellipse style="stroke-width:3" cx="1062" cy="665" rx="40" ry="26" transform="rotate(30 1062 665)"/>
<ellipse style="stroke-width:3" cx="262" cy="1235" rx="40" ry="24" transform="rotate(35 262 1235)"/>
</g>
<!-- t18_coil.svg -->
<g class="p" transform="translate(110,1060) scale(0.15974)">
<!-- HT lead -->
<path class="t" d="M690 235 Q650 250 645 300 L635 1080 M735 275 Q690 280 685 330 L675 1090"/>
<!-- plug cap -->
<path class="w t" d="M755 130 Q790 100 830 130 L885 250 Q890 285 850 300 L820 305 L800 280 L740 270 Q700 285 690 260 L700 225 L745 190 Z"/>
<path d="M745 190 Q770 230 800 280 M712 215 Q730 240 750 268 M700 228 Q715 250 730 272"/>
<ellipse class="k" cx="895" cy="375" rx="40" ry="27" transform="rotate(-10 895 375)"/>
<!-- terminal 60 -->
<path class="w" style="stroke-width:2.4" d="M335 740 L400 730 L410 760 L405 830 L365 835 L345 790 Z"/>
<path class="t" d="M355 750 L370 825 M385 745 L390 830"/>
<path d="M400 840 L400 915 L500 860 L510 940"/>
<!-- wires -->
<path style="stroke-width:2.4" d="M415 765 Q520 760 600 830 Q700 950 760 990 Q850 1040 940 1040"/>
<path class="t" d="M415 790 Q520 790 590 860 Q680 970 750 1010 Q850 1060 940 1060"/>
<path style="stroke-width:2.4" d="M460 1050 Q560 1090 650 1040 Q760 1000 940 1075"/>
<!-- coil body -->
<path class="w t" d="M470 1000 L520 950 L540 905 L580 930 L600 990 L640 1000 L720 1040 Q745 1070 735 1130 Q700 1200 620 1210 Q560 1190 520 1140 Q470 1110 460 1070 Z"/>
<path class="k" d="M500 920 L545 905 L610 960 L560 990 Z"/>
<path class="w" d="M530 930 L575 955 L560 975 L520 950 Z"/>
<path class="t" d="M620 1090 L620 1180 M680 1090 L680 1175 M470 1000 L560 1040 L640 1000 M560 1040 L560 1000"/>
<ellipse class="t" cx="650" cy="1090" rx="30" ry="12"/>
<path style="stroke-width:2.4" d="M460 1050 Q560 1090 650 1040"/>
<path class="t" d="M640 1085 L645 300"/>
<!-- connector -->
<path class="w" style="stroke-width:2.4" d="M945 1035 L1040 1010 L1100 1040 L1095 1090 L1000 1110 L945 1085 Z"/>
<path class="t" d="M945 1035 L1000 1060 L1095 1040 M1000 1060 L1000 1110 M1040 1050 L1045 1100 M1060 1020 L1090 1045"/>
<!-- screw 58 -->
<path class="w t" d="M170 1140 L240 1100 L255 1125 L185 1165 Z"/>
<path d="M195 1128 L208 1150 M215 1117 L228 1140"/>
<ellipse class="w" style="stroke-width:3.2" cx="150" cy="1165" rx="28" ry="30"/>
<circle class="t" cx="150" cy="1165" r="10"/>
<!-- 59 -->
<ellipse class="k" cx="365" cy="1025" rx="28" ry="22"/>
<ellipse class="w" cx="385" cy="1040" rx="14" ry="18"/>
<path d="M260 1095 L340 1045 M395 1030 L470 1000"/>
</g>

<!-- t19_crank.svg -->
<g class="p" transform="translate(570,1330) scale(0.15974)">
<!-- needle bearing + bracket -->
<path class="w t" d="M525 180 L590 145 Q625 145 635 175 L625 205 L570 240 Q535 235 525 215 Z"/>
<ellipse class="w" style="stroke-width:2.4" cx="545" cy="205" rx="19" ry="28" transform="rotate(-20 545 205)"/>
<ellipse class="k" cx="543" cy="205" rx="7" ry="12"/>
<path d="M460 255 L525 215 M100 1020 L0 1080 M745 620 L820 570 M895 515 L1040 430 M1210 350 L1252 330"/>
<path d="M735 100 L735 250 M635 155 L735 100"/>
<!-- seal 82 -->
<ellipse class="w" style="stroke-width:3.2" cx="850" cy="535" rx="42" ry="60" transform="rotate(-35 850 535)"/>
<ellipse class="w t" cx="840" cy="525" rx="20" ry="30" transform="rotate(-35 840 525)"/>
<!-- bearing 81 -->
<ellipse class="w" style="stroke-width:2.4" cx="1098" cy="412" rx="112" ry="132" transform="rotate(-25 1098 412)"/>
<ellipse class="t" cx="1082" cy="416" rx="95" ry="118" transform="rotate(-25 1082 416)"/>
<ellipse cx="1075" cy="418" rx="80" ry="100" transform="rotate(-25 1075 418)"/>
<ellipse class="w" style="stroke-width:4" cx="1065" cy="420" rx="46" ry="58" transform="rotate(-25 1065 420)"/>
<ellipse class="t" cx="1060" cy="418" rx="22" ry="28" transform="rotate(-25 1060 418)"/>
</g>
<g class="p" transform="translate(580,1400) scale(0.09585)">
<!-- right shaft -->
<path class="w t" d="M890 330 L1070 240 Q1100 245 1130 270 Q1150 310 1130 350 L1060 390 L900 530 Z"/>
<path class="t" d="M960 300 Q1000 350 1010 430 M1040 255 Q1080 300 1090 372 M1075 240 Q1110 285 1115 358"/>
<!-- counterweight bottom -->
<path class="w t" d="M470 800 Q500 880 600 930 L740 945 L880 860 L1010 745 L1030 680 L900 560 L700 700 Z"/>
<path class="t" d="M530 790 Q560 850 640 870 Q720 860 740 800 L720 760 M740 945 L760 880 L880 800 L1010 745 M880 860 L880 800"/>
<!-- right web -->
<path class="w t" d="M700 215 Q780 200 840 260 L880 330 L890 400 L900 560 Q930 620 1030 680 L1010 740 L940 780 L880 760 L840 620 L810 420 L780 300 Z"/>
<path class="t" d="M740 240 Q800 250 830 320 L860 560 L900 640 L960 700 M880 760 L900 700 L960 660"/>
<!-- left shaft -->
<path class="w t" d="M75 890 L200 798 L390 680 L370 640 L540 550 Q620 600 640 690 L600 735 L450 812 L470 800 L270 902 L130 990 Z"/>
<ellipse class="w t" cx="100" cy="938" rx="32" ry="50" transform="rotate(-30 100 938)"/>
<path class="t" d="M200 798 Q250 830 270 902 M215 790 Q262 822 285 893 M390 680 Q440 730 450 812"/>
<path style="stroke-width:3.4" d="M540 550 Q620 600 640 690"/>
<path class="w t" d="M340 605 L440 550 L450 572 L360 628 Z"/>
<path style="stroke-width:2.8" d="M290 715 L372 668"/>
<!-- left web -->
<path class="w t" d="M450 385 Q455 360 480 350 L560 315 Q620 330 650 400 L690 520 L730 660 L700 700 Q640 600 590 560 Q540 540 480 570 L455 560 Z"/>
<ellipse class="t" cx="560" cy="465" rx="36" ry="50" transform="rotate(-25 560 465)"/>
<ellipse class="t" cx="562" cy="465" rx="16" ry="25" transform="rotate(-25 562 465)"/>
<path class="t" d="M470 400 Q520 370 580 370 Q620 400 640 470"/>
<!-- big end between webs -->
<path class="w t" d="M560 315 L640 285 L720 300 L780 300 L810 420 L840 620 L780 640 L740 650 L690 520 L650 400 Z"/>
<path class="t" d="M640 285 L700 480 L740 650 M700 330 L760 600 M650 400 L720 370 M690 520 L760 490"/>
<path style="stroke-width:2.8" d="M720 300 L790 590"/>
<!-- con rod lower -->
<path class="w t" d="M545 0 L580 270 L640 290 L720 300 L660 0 Z"/>
<path d="M590 10 L650 280 M620 0 L682 290"/>
<!-- key 73 -->
<path class="w t" d="M40 540 Q80 470 155 455 Q175 470 160 500 Q110 555 60 565 Z"/>
<path d="M150 560 L280 715"/>
</g>
<g class="p" transform="translate(570,1330) scale(0.15974)">
<!-- con rod upper -->
<path class="w t" d="M340 340 L392 440 L470 420 L440 330 Z"/>
<path d="M380 360 L405 440 M415 320 L445 430"/>
<ellipse class="w" style="stroke-width:2.4" cx="390" cy="285" rx="64" ry="70" transform="rotate(-20 390 285)"/>
<ellipse class="t" cx="366" cy="300" rx="25" ry="35" transform="rotate(-20 366 300)"/>
<path class="t" d="M350 225 Q400 205 440 245"/>
</g>

<!-- t20_case_r.svg -->
<g class="p" transform="translate(740,1270) scale(0.1278)">
<!-- back plate -->
<path class="w" style="stroke-width:2.6" d="M440 150 Q470 105 520 100 L960 255 Q1010 280 1020 330 L1100 700 Q1115 800 1100 880 L1040 925 L950 915 L780 880 L600 1020 L560 1030 L450 880 L300 800 L270 700 L290 560 L270 480 L230 470 L200 420 L200 380 L440 210 Z"/>
<path class="t" d="M470 185 L500 142 L940 290 L1000 360 L1080 860 M440 210 L480 235 L520 230 L900 360 L950 350 M900 360 L700 480"/>
<path style="stroke-width:2.6" d="M520 175 L930 320"/>
<!-- holes on plate -->
<path class="t" d="M850 560 Q860 535 890 530 L920 535 Q945 550 935 580 Q915 610 880 612 Q845 600 850 560 Z M880 760 L940 690 L960 700 L950 760 L900 790 Z"/>
<ellipse class="t" cx="810" cy="370" rx="20" ry="12"/><ellipse class="t" cx="470" cy="235" rx="18" ry="10"/>
<ellipse class="k" cx="990" cy="900" rx="45" ry="22" transform="rotate(-10 990 900)"/>
<path class="t" d="M820 420 Q860 430 850 470 M870 690 L900 700"/>
<!-- left lug -->
<path class="t" d="M200 380 L260 360 L290 400 L270 470"/>
<ellipse class="t" cx="240" cy="420" rx="14" ry="22" transform="rotate(20 240 420)"/>
<!-- housing -->
<path class="t" d="M300 440 Q255 650 330 790 M330 420 L440 290 L470 330 L350 460 M340 470 Q300 640 360 760 M400 440 Q360 600 420 720 M440 290 L540 270 L700 330 M470 330 L540 290 L700 340 L690 420 L640 440 L480 400 Z M480 420 Q560 480 660 470"/>
<path style="stroke-width:2.8" d="M310 440 Q270 600 320 720"/>
<path class="t" d="M500 520 Q480 650 560 740 Q640 800 720 760 M560 510 Q540 620 600 690 Q660 730 720 700 M520 500 Q560 470 640 490 L720 520"/>
<path style="stroke-width:2.6" d="M600 520 Q580 600 630 670"/>
<ellipse class="t" cx="720" cy="578" rx="28" ry="38" transform="rotate(-20 720 578)"/>
<ellipse class="t" cx="722" cy="578" rx="12" ry="18" transform="rotate(-20 722 578)"/>
<path class="t" d="M740 500 Q800 520 810 600 L780 640 L730 660 M660 540 L700 530 M680 620 L720 650"/>
<path style="stroke-width:2.4" d="M720 700 Q740 800 700 880 L660 940 M770 690 Q790 800 750 880 L700 950"/>
<path class="t" d="M440 700 Q480 800 560 850 Q640 880 700 880 M480 860 L560 960 M520 880 L540 920 L600 940 L640 950 L660 990 L600 1020"/>
<circle class="t" cx="570" cy="985" r="14"/>
<path class="k" d="M500 880 L530 870 L545 900 L515 910 Z"/>
<path d="M180 905 L370 790"/>
<path class="t" d="M330 470 Q290 640 350 770 M370 450 Q330 610 390 730 M450 420 Q420 560 470 680 M700 340 L760 380 L780 460 M560 300 L560 340 L640 360 L640 320 M480 330 L480 400 M600 470 Q640 440 700 470 M640 560 Q620 620 650 680 Q690 720 730 700"/>
<path style="stroke-width:3" d="M540 300 L690 345 M620 490 Q600 580 640 660 M700 480 L750 520 M460 860 L500 930"/>
<path class="t" d="M940 300 L1000 370 L1085 850 M1040 925 L1060 880 L1100 880 M960 255 L940 300"/>
<!-- seal boss -->
<ellipse class="w" style="stroke-width:2.6" cx="355" cy="775" rx="85" ry="105" transform="rotate(-20 355 775)"/>
<ellipse class="w" style="stroke-width:2.4" cx="345" cy="770" rx="40" ry="56" transform="rotate(-20 345 770)"/>
<path class="t" d="M400 680 Q460 740 450 850"/>
</g>
<!-- t21_fanhousing.svg -->
<g class="p" transform="translate(265,1545) scale(0.13578)">
<path class="w t" d="M85 300 L150 262 L190 270 L300 210 L420 215 L470 222 L560 160 L640 115 L705 150 L720 262 L800 282 L900 268 L990 250 Q1060 270 1090 340 L1110 410 L1090 475 Q1170 620 1160 780 Q1130 950 1010 1080 Q900 1180 720 1195 L660 1240 L610 1245 L575 1175 Q430 1100 330 980 Q230 860 170 690 L130 560 L100 500 L120 450 L90 340 Z"/>
<path class="t" d="M280 290 Q220 600 420 900 Q560 1100 760 1130 M360 240 Q330 520 480 780 Q600 960 790 990 M370 330 Q400 560 520 740 Q600 850 690 900"/>
<path d="M300 300 Q250 600 440 880 Q570 1070 750 1105 M395 330 Q420 550 540 730"/>
<path class="t" d="M1090 475 Q1150 650 1120 800 Q1080 950 960 1060 Q860 1140 720 1170 M1060 520 Q1110 680 1080 820 Q1040 960 930 1050 M560 1150 Q700 1180 850 1100 Q960 1020 1010 900 M700 1080 Q800 1100 900 1020"/>
<!-- top details -->
<path class="t" d="M380 250 L470 300 L620 420 M470 222 L470 300 M400 280 L420 340 L470 330 M570 200 L580 250 L640 270 L700 260 M600 180 L680 210 M190 270 L240 300 L300 280 M720 262 L760 330 L860 370 L990 250 M860 370 L900 420 L1060 470 L1090 475 M900 268 L860 330"/>
<path style="stroke-width:3" d="M480 310 L640 420 M620 200 L625 250 M660 170 L670 240"/>
<circle class="t" cx="825" cy="352" r="10"/>
<!-- bearing boss -->
<path class="w t" d="M600 470 Q640 400 740 420 Q820 470 830 580 Q830 660 790 690 L690 700 Q610 640 600 470 Z"/>
<ellipse class="w" style="stroke-width:2.4" cx="690" cy="572" rx="92" ry="125" transform="rotate(-20 690 572)"/>
<ellipse class="t" cx="706" cy="576" rx="58" ry="95" transform="rotate(-20 706 576)"/>
<path style="stroke-width:3.4" d="M760 450 Q820 520 810 640"/>
<path class="t" d="M690 700 L720 740 L700 810 L680 830 L690 900 L740 890 L790 850 L820 780 L810 690 M860 700 L890 740 L940 720 L960 600 M830 580 L900 560 L960 600 M830 470 L880 450 L900 500 L880 560"/>
<path style="stroke-width:2.6" d="M850 560 L855 680 M730 740 L790 720"/>
<path style="stroke-width:3.6" d="M620 400 L700 390 L790 430 M610 200 L640 250 M680 160 L690 230 M790 440 Q850 520 840 650 M470 300 L600 390"/>
<path class="t" d="M250 310 Q210 600 400 900 M330 260 Q300 540 460 800 Q580 980 780 1020 M440 330 Q470 540 570 700 M640 115 L600 180 L570 200 M705 150 L660 170 M800 282 L830 340 M990 250 L1000 330 L1090 340 M1000 330 L900 420 M920 480 L1000 520 L1040 560 M900 740 L960 760 L1010 730 M820 780 L900 820 L1000 800 M740 890 L820 900 L900 860"/>
<!-- lugs -->
<path class="t" d="M960 600 L1040 560 L1090 640 L1060 700 L1010 730 L990 700 M1020 790 L1090 830 L1100 870 L1050 910 L1020 880 M1040 560 L1060 620 L1090 640"/>
<circle class="t" cx="1015" cy="680" r="17"/><circle class="t" cx="1050" cy="860" r="14"/>
<circle class="t" cx="120" cy="345" r="17"/><circle class="t" cx="135" cy="520" r="14"/><circle class="t" cx="622" cy="1210" r="17"/>
<path class="t" d="M150 262 L170 330 L120 450"/>
<!-- axis -->
<path d="M135 890 L690 565 M430 1215 L560 1140"/>
<path class="d" d="M560 1140 L1020 870"/>
<!-- screw 78 -->
<path class="w t" d="M330 1250 L420 1210 L435 1240 L345 1290 Z"/>
<path d="M365 1235 Q380 1255 372 1275 M395 1222 Q410 1242 402 1260"/>
<ellipse class="w" style="stroke-width:3" cx="300" cy="1285" rx="33" ry="44" transform="rotate(-20 300 1285)"/>
<ellipse class="t" cx="292" cy="1288" rx="13" ry="20" transform="rotate(-20 292 1288)"/>
</g>

<!-- t22_flywheel.svg -->
<g class="p" transform="translate(130,1620) scale(0.13578)">
<!-- fins -->
<path class="w t" d="M870 165 L915 135 L960 180 L950 230 Z M960 215 L1030 185 L1050 250 L1040 290 Z M1040 310 L1110 290 L1120 350 L1100 390 Z M1090 470 L1165 450 L1150 510 L1100 540 Z M1100 580 L1185 545 L1165 600 L1100 630 Z M1090 660 L1145 655 L1110 700 Z M1080 400 L1140 370 L1135 430 L1095 450 Z"/>
<!-- rim -->
<path class="w t" d="M720 210 L815 130 Q1000 200 1050 420 Q1060 600 1000 740 L900 795 Z"/>
<ellipse class="w" style="stroke-width:2.4" cx="785" cy="505" rx="200" ry="305" transform="rotate(-25 785 505)"/>
<ellipse class="t" cx="790" cy="508" rx="170" ry="272" transform="rotate(-25 790 508)"/>
<path style="stroke-width:2.6" d="M585 400 Q570 500 630 590 M660 620 Q700 700 760 740"/>
<!-- spokes -->
<path class="t" d="M600 370 L700 410 L760 430 M710 250 L770 440 M850 350 L800 430 M770 440 L860 480 L900 560 L990 650 M880 620 L940 740 M740 260 L850 350 L900 420 M620 400 L680 440 M760 430 L740 520 M860 480 L820 520"/>
<path d="M790 300 L830 380 M800 340 L815 345 M700 590 L720 585 M765 590 L790 600 M880 640 L900 690 M760 290 L745 275"/>
<ellipse class="t" cx="690" cy="470" rx="34" ry="40"/><ellipse class="k" cx="690" cy="470" rx="17" ry="22"/>
<ellipse class="t" cx="835" cy="575" rx="28" ry="30"/><ellipse class="t" cx="835" cy="575" rx="12" ry="14"/>
<circle class="t" cx="740" cy="650" r="14"/><circle class="t" cx="855" cy="715" r="11"/><circle cx="888" cy="708" r="8"/>
<path d="M590 635 L830 510 M1130 340 L1252 270 M420 745 L520 690"/>
<!-- washer 76 -->
<ellipse class="w" style="stroke-width:3.2" cx="552" cy="662" rx="36" ry="52" transform="rotate(-25 552 662)"/>
<ellipse class="w t" cx="545" cy="655" rx="14" ry="24" transform="rotate(-25 545 655)"/>
<!-- nut 75 -->
<path class="w t" d="M180 850 L215 830 L250 900 L130 960 Q80 975 65 935 Q60 900 100 885 Z"/>
<path style="stroke-width:2.4" d="M100 890 L120 950 M120 880 L140 940 M140 870 L160 932 M160 860 L178 925"/>
<ellipse class="w t" cx="85" cy="935" rx="14" ry="24" transform="rotate(-25 85 935)"/>
<path class="w t" d="M280 760 L350 715 Q400 720 415 770 Q420 810 395 830 L330 870 Z"/>
<path class="w" style="stroke-width:2.4" d="M215 800 L280 760 L330 790 L335 850 L290 890 L235 870 Z"/>
<path class="t" d="M280 760 L290 830 L335 850 M290 830 L235 870 M250 790 L262 850"/>
</g>

<!-- t23_gasket79.svg -->
<g class="p" transform="translate(410,1480) scale(0.14377)">
<path class="w" style="stroke-width:2.6" d="M100 235 L460 355 L480 440 L510 470 L515 500 L490 520 L540 625 L565 650 L560 700 Q565 800 500 850 L440 870 L440 910 L400 922 L360 850 Q220 750 160 600 L140 500 L150 450 L100 430 L90 390 L110 350 Z"/>
<path class="t" d="M130 262 L440 370 L460 450 L480 530 L535 690 Q545 790 490 830 L420 850 L380 830 Q240 740 180 600 L160 500 L170 440 L140 300 Z"/>
<circle class="t" cx="125" cy="410" r="14"/><circle class="t" cx="497" cy="490" r="11"/><circle class="t" cx="547" cy="652" r="11"/><circle class="t" cx="405" cy="888" r="13"/>
<path d="M70 745 L335 600 M520 490 L690 400 M800 330 L930 260 M1120 155 L1240 85"/>
<!-- seal 80a -->
<ellipse class="w" style="stroke-width:2.4" cx="728" cy="386" rx="92" ry="118" transform="rotate(-25 728 386)"/>
<ellipse class="w" style="stroke-width:2.4" cx="692" cy="400" rx="88" ry="115" transform="rotate(-25 692 400)"/>
<ellipse class="w" style="stroke-width:3.4" cx="682" cy="402" rx="38" ry="55" transform="rotate(-25 682 402)"/>
<path d="M520 490 L690 400"/>
<!-- bearing 81a -->
<ellipse class="w" style="stroke-width:2.4" cx="1000" cy="222" rx="125" ry="155" transform="rotate(-25 1000 222)"/>
<ellipse class="t" cx="985" cy="228" rx="105" ry="135" transform="rotate(-25 985 228)"/>
<ellipse cx="978" cy="230" rx="85" ry="110" transform="rotate(-25 978 230)"/>
<ellipse class="w" style="stroke-width:4" cx="968" cy="232" rx="48" ry="60" transform="rotate(-25 968 232)"/>
<ellipse class="t" cx="964" cy="232" rx="22" ry="30" transform="rotate(-25 964 232)"/>
<path d="M800 330 L930 260"/>
</g>

<!-- t24_misc.svg -->
<g class="p">
<ellipse class="w" style="stroke-width:3.6" cx="396.7" cy="1108.7" rx="4.8" ry="7" transform="rotate(-25 396.7 1108.7)"/>
</g>

<g class="c" style="filter:grayscale(1)">
<circle cx="856" cy="36.5" r="19"/><text x="856" y="43.3">1</text>
<circle cx="923" cy="71.5" r="19"/><text x="923" y="78.3">2</text>
<circle cx="968.5" cy="99" r="19"/><text x="968.5" y="105.8">3</text>
<circle cx="1007" cy="121.5" r="19"/><text x="1007" y="128.3">4</text>
<circle cx="1045" cy="146" r="19"/><text x="1045" y="152.8">5</text>
<circle cx="1083.5" cy="168.5" r="19"/><text x="1083.5" y="175.3">6</text>
<circle cx="1188" cy="250.5" r="19"/><text x="1188" y="257.3">7</text>
<circle cx="1100.5" cy="67.5" r="19"/><text x="1100.5" y="74.3">8</text>
<circle cx="736" cy="301.5" r="19"/><text x="736" y="308.3">9</text>
<circle cx="777.5" cy="326.5" r="19"/><text x="777.5" y="333.3">10</text>
<circle cx="829" cy="358" r="19"/><text x="829" y="364.8">11</text>
<circle cx="216.4" cy="361.5" r="19"/><text x="216.4" y="368.3">12</text>
<circle cx="284" cy="403.5" r="19"/><text x="284" y="410.3">13</text>
<circle cx="361.5" cy="448.5" r="19"/><text x="361.5" y="455.3">12</text>
<circle cx="337.5" cy="526.5" r="19"/><text x="337.5" y="533.3">14</text>
<circle cx="399" cy="565" r="19"/><text x="399" y="571.8">15</text>
<circle cx="679.5" cy="511" r="19"/><text x="679.5" y="517.8">16</text>
<circle cx="827.5" cy="467.5" r="19"/><text x="827.5" y="474.3">17</text>
<circle cx="737.5" cy="615" r="19"/><text x="737.5" y="621.8">18</text>
<circle cx="688.5" cy="736" r="19"/><text x="688.5" y="742.8">19</text>
<circle cx="728" cy="718" r="19"/><text x="728" y="724.8">20</text>
<circle cx="767" cy="700" r="19"/><text x="767" y="706.8">21</text>
<circle cx="913.5" cy="590" r="19"/><text x="913.5" y="596.8">22</text>
<circle cx="913.5" cy="630" r="19"/><text x="913.5" y="636.8">23</text>
<circle cx="913.5" cy="677.5" r="19"/><text x="913.5" y="684.3">24</text>
<circle cx="915.2" cy="726.3" r="19"/><text x="915.2" y="733.1">25</text>
<circle cx="756" cy="763" r="19"/><text x="756" y="769.8">26</text>
<circle cx="756" cy="803.5" r="19"/><text x="756" y="810.3">27</text>
<circle cx="756" cy="844.5" r="19"/><text x="756" y="851.3">28</text>
<circle cx="756" cy="888.5" r="19"/><text x="756" y="895.3">29</text>
<circle cx="756" cy="929.5" r="19"/><text x="756" y="936.3">30</text>
<circle cx="755" cy="970.5" r="19"/><text x="755" y="977.3">31</text>
<circle cx="755" cy="1011" r="19"/><text x="755" y="1017.8">32</text>
<circle cx="882.4" cy="803.5" r="19"/><text x="882.4" y="810.3">33</text>
<circle cx="917.5" cy="824" r="19"/><text x="917.5" y="830.8">34</text>
<circle cx="917.5" cy="895" r="19"/><text x="917.5" y="901.8">35</text>
<circle cx="917.5" cy="935" r="19"/><text x="917.5" y="941.8">36</text>
<circle cx="915" cy="1069" r="19"/><text x="915" y="1075.8">37</text>
<circle cx="935" cy="1207.5" r="19"/><text x="935" y="1214.3">38</text>
<circle cx="1048.5" cy="1182.5" r="19"/><text x="1048.5" y="1189.3">39</text>
<circle cx="1048.5" cy="1251" r="19"/><text x="1048.5" y="1257.8">40</text>
<circle cx="1048.5" cy="1321.5" r="19"/><text x="1048.5" y="1328.3">41</text>
<circle cx="1048.5" cy="1375" r="19"/><text x="1048.5" y="1381.8">42</text>
<circle cx="103" cy="611" r="19"/><text x="103" y="617.8">50</text>
<circle cx="183" cy="657" r="19"/><text x="183" y="663.8">51</text>
<circle cx="268" cy="708.5" r="19"/><text x="268" y="715.3">52</text>
<circle cx="405" cy="784" r="19"/><text x="405" y="790.8">53</text>
<circle cx="34.5" cy="807" r="19"/><text x="34.5" y="813.8">54</text>
<circle cx="113.5" cy="852.5" r="19"/><text x="113.5" y="859.3">55</text>
<circle cx="166.5" cy="883.5" r="19"/><text x="166.5" y="890.3">56</text>
<circle cx="73" cy="935" r="19"/><text x="73" y="941.8">57</text>
<circle cx="88.5" cy="1194" r="19"/><text x="88.5" y="1200.8">58</text>
<circle cx="125" cy="1172.5" r="19"/><text x="125" y="1179.3">59</text>
<circle cx="170.5" cy="1143.5" r="19"/><text x="170.5" y="1150.3">60</text>
<circle cx="307" cy="1103.5" r="19"/><text x="307" y="1110.3">61</text>
<circle cx="386" cy="1156.5" r="19"/><text x="386" y="1163.3">63</text>
<circle cx="435" cy="1128.5" r="19"/><text x="435" y="1135.3">64</text>
<circle cx="474" cy="1106" r="19"/><text x="474" y="1112.8">65</text>
<circle cx="631" cy="929.5" r="19"/><text x="631" y="936.3">66</text>
<circle cx="647" cy="1174.5" r="19"/><text x="647" y="1181.3">67</text>
<circle cx="725" cy="1117" r="19"/><text x="725" y="1123.8">68</text>
<circle cx="530" cy="1226" r="19"/><text x="530" y="1232.8">69</text>
<circle cx="530" cy="1316" r="19"/><text x="530" y="1322.8">70</text>
<circle cx="458" cy="1264.5" r="19"/><text x="458" y="1271.3">71</text>
<circle cx="699.5" cy="1276.5" r="19"/><text x="699.5" y="1283.3">72</text>
<circle cx="587" cy="1396.5" r="19"/><text x="587" y="1403.3">73</text>
<circle cx="724.5" cy="1351.5" r="19"/><text x="724.5" y="1358.3">74</text>
<circle cx="92.5" cy="1695" r="19"/><text x="92.5" y="1701.8">75</text>
<circle cx="134.5" cy="1668.5" r="19"/><text x="134.5" y="1675.3">76</text>
<circle cx="178.5" cy="1642" r="19"/><text x="178.5" y="1648.8">77</text>
<circle cx="316.5" cy="1772.5" r="19"/><text x="316.5" y="1779.3">78</text>
<circle cx="468" cy="1648" r="19"/><text x="468" y="1654.8">79</text>
<circle cx="515.5" cy="1621.5" r="19"/><text x="515.5" y="1628.3">80</text>
<circle cx="559" cy="1595.5" r="19"/><text x="559" y="1602.3">81</text>
<circle cx="625.5" cy="1649" r="19"/><text x="625.5" y="1655.8">83</text>
<circle cx="707" cy="1508" r="19"/><text x="707" y="1514.8">82</text>
<circle cx="752" cy="1484.3" r="19"/><text x="752" y="1491.1">81</text>
<circle cx="791.5" cy="1461.5" r="19"/><text x="791.5" y="1468.3">80</text>
</g>
<text x="215" y="283" style="filter:grayscale(1)" font-family="Liberation Sans, sans-serif" font-size="29" text-anchor="middle" fill="#000" stroke="#000" stroke-width="0.5">B</text>
<text x="1092.5" y="1785.5" font-family="Liberation Serif, serif" font-size="38" textLength="127" lengthAdjust="spacingAndGlyphs"><tspan fill="#4b6eb3" stroke="#4b6eb3" stroke-width="0.5">m</tspan><tspan fill="#5cb04a" stroke="#5cb04a" stroke-width="0.5">o</tspan><tspan fill="#e25aa4" stroke="#e25aa4" stroke-width="0.5">t</tspan><tspan fill="#35a552" stroke="#35a552" stroke-width="0.5">o</tspan><tspan fill="#e9531c" stroke="#e9531c" stroke-width="0.5">r</tspan><tspan fill="#f39a14" stroke="#f39a14" stroke-width="0.5">u</tspan><tspan fill="#f0c510" stroke="#f0c510" stroke-width="0.5">f</tspan></text><text x="1221" y="1785" font-family="Liberation Sans, sans-serif" font-size="14" fill="#333">.de</text>
</svg></body></html>
